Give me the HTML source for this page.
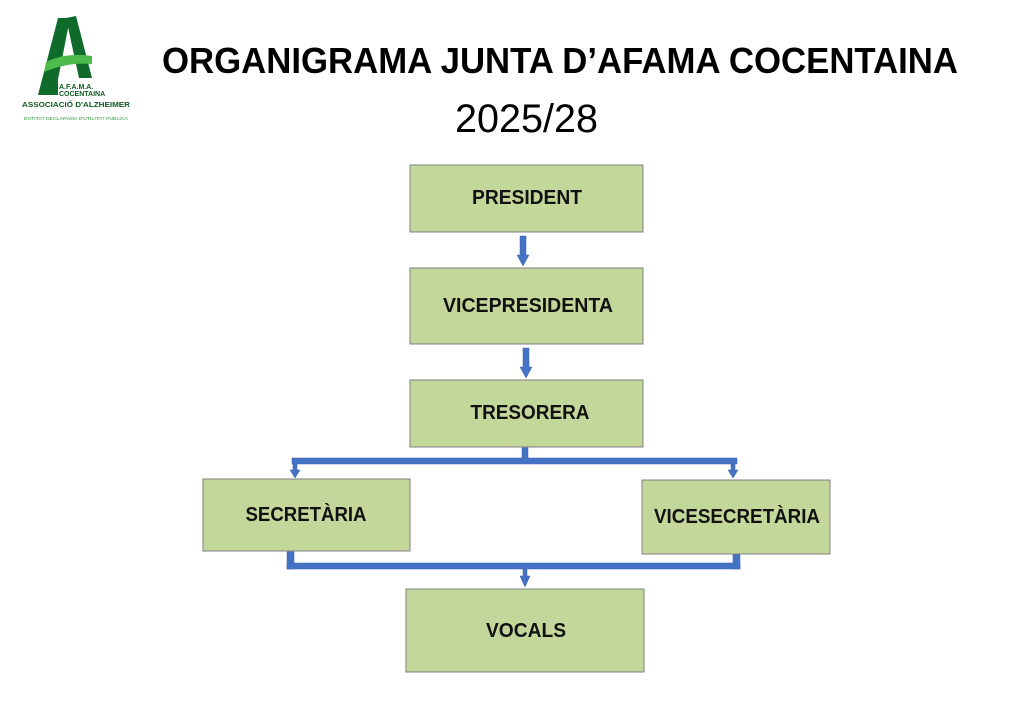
<!DOCTYPE html>
<html><head><meta charset="utf-8"><style>
html,body{margin:0;padding:0;background:#fff;width:1024px;height:724px;overflow:hidden}
svg{display:block}
text{font-family:"Liberation Sans",sans-serif}
</style></head><body>
<svg width="1024" height="724" viewBox="0 0 1024 724" xmlns="http://www.w3.org/2000/svg">
<!-- logo -->
<path d="M38 95 L58 18 L70 18 L55 95 Z" fill="#0f6b2a"/>
<path d="M66 18 L76 16 L92 78 L79 78 Z" fill="#0f6b2a"/>
<path d="M46 62 Q66 52 92 56 L92 64 Q68 62 44 72 Z" fill="#4cbb4c"/>
<rect x="52" y="78" width="6" height="17" fill="#0f6b2a"/>
<text x="59" y="89" font-size="7" font-weight="bold" fill="#0f5a22">A.F.A.M.A.</text>
<text x="59" y="96" font-size="7" font-weight="bold" fill="#0f5a22">COCENTAINA</text>
<text x="22" y="107" font-size="7.5" font-weight="bold" fill="#0f5a22" textLength="108" lengthAdjust="spacingAndGlyphs">ASSOCIACIÓ D'ALZHEIMER</text>
<text x="24" y="120" font-size="4.5" fill="#2a9a3a" textLength="104" lengthAdjust="spacingAndGlyphs">ENTITAT DECLARADA D'UTILITAT PÚBLICA</text>
<!-- title -->
<text x="162" y="73" font-size="36" font-weight="bold" fill="#000" textLength="796" lengthAdjust="spacingAndGlyphs">ORGANIGRAMA JUNTA D’AFAMA COCENTAINA</text>
<text x="455" y="132" font-size="40" fill="#000" textLength="143" lengthAdjust="spacingAndGlyphs">2025/28</text>
<!-- connectors -->
<g fill="#4472c4" stroke="#3a64ae" stroke-width="0.5">
<path d="M520 236 L526 236 L526 255 L529 255 L523 266 L517 255 L520 255 Z"/>
<path d="M523 348 L529 348 L529 367 L532 367 L526 378 L520 367 L523 367 Z"/>
<rect x="522" y="447" width="6" height="13"/>
<rect x="292" y="458" width="445" height="6"/>
<path d="M293 464 L297 464 L297 470 L300 470 L295 478 L290 470 L293 470 Z"/>
<path d="M731 464 L735 464 L735 470 L738 470 L733 478 L728 470 L731 470 Z"/>
<rect x="287" y="551" width="7" height="18"/>
<rect x="733" y="554" width="7" height="15"/>
<rect x="287" y="563" width="453" height="6"/>
<path d="M523 569 L527 569 L527 576 L530 576 L525 587 L520 576 L523 576 Z"/>
</g>
<!-- boxes -->
<g fill="#c4d79b" stroke="#7f7f7f" stroke-width="1">
<rect x="410" y="165" width="233" height="67"/>
<rect x="410" y="268" width="233" height="76"/>
<rect x="410" y="380" width="233" height="67"/>
<rect x="203" y="479" width="207" height="72"/>
<rect x="642" y="480" width="188" height="74"/>
<rect x="406" y="589" width="238" height="83"/>
</g>
<g font-size="20" font-weight="bold" fill="#111" text-anchor="middle">
<text x="527" y="204" textLength="110" lengthAdjust="spacingAndGlyphs">PRESIDENT</text>
<text x="528" y="312" textLength="170" lengthAdjust="spacingAndGlyphs">VICEPRESIDENTA</text>
<text x="530" y="419" textLength="119" lengthAdjust="spacingAndGlyphs">TRESORERA</text>
<text x="306" y="521" textLength="121" lengthAdjust="spacingAndGlyphs">SECRETÀRIA</text>
<text x="737" y="523" textLength="166" lengthAdjust="spacingAndGlyphs">VICESECRETÀRIA</text>
<text x="526" y="637" textLength="80" lengthAdjust="spacingAndGlyphs">VOCALS</text>
</g>
</svg>
</body></html>
